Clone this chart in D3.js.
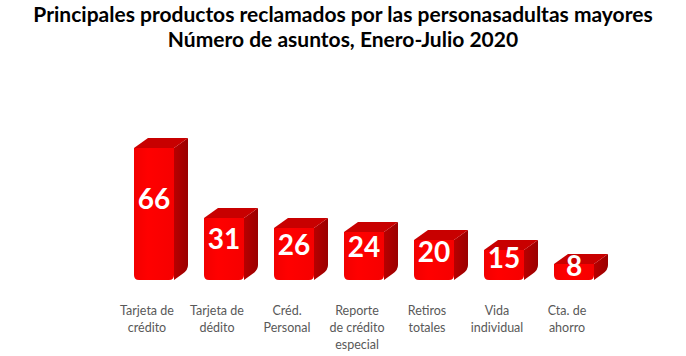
<!DOCTYPE html>
<html>
<head>
<meta charset="utf-8">
<script src="https://cdn.jsdelivr.net/npm/d3@7"></script>
<style>
  html, body { margin: 0; padding: 0; background: #fff; }
  svg { display: block; }
</style>
</head>
<body>
<svg id="chart" width="686" height="356"></svg>
<script>
const titleLines = ["Principales productos reclamados por las personasadultas mayores", "Número de asuntos, Enero-Julio 2020"];
const categories = ["Tarjeta de\ncrédito", "Tarjeta de\ndédito", "Créd.\nPersonal", "Reporte\nde crédito\nespecial", "Retiros\ntotales", "Vida\nindividual", "Cta. de\nahorro"];
const values = [66, 31, 26, 24, 20, 15, 8];

const svg = d3.select("#chart");

// title
svg.append("g").selectAll("text").data(titleLines).join("text")
  .attr("x", 343).attr("y", (d, i) => 21.5 + i * 25.6)
  .attr("text-anchor", "middle")
  .attr("font-family", "Lato, 'Open Sans', sans-serif")
  .attr("font-weight", "bold")
  .attr("font-size", 21)
  .attr("fill", "#000")
  .text(d => d);

const x = d3.scaleBand().domain(categories).range([112, 602]).padding(0);
const y = d3.scaleLinear().domain([0, 66]).range([280, 148]);

const defs = svg.append("defs");
const gFront = defs.append("linearGradient").attr("id", "front").attr("x1", 0).attr("x2", 1).attr("y1", 0).attr("y2", 0);
gFront.append("stop").attr("offset", 0).attr("stop-color", "#f20000");
gFront.append("stop").attr("offset", 0.35).attr("stop-color", "#ff0000");
gFront.append("stop").attr("offset", 1).attr("stop-color", "#f60000");
const gSide = defs.append("linearGradient").attr("id", "side").attr("x1", 0).attr("x2", 1).attr("y1", 0).attr("y2", 0);
gSide.append("stop").attr("offset", 0).attr("stop-color", "#b80000");
gSide.append("stop").attr("offset", 1).attr("stop-color", "#9a0000");

const DX = 14, DY = 10, BW = 40, R = 5;
const data = categories.map((c, i) => ({ c, v: values[i] }));

const bars = svg.append("g").selectAll("g").data(data).join("g");

bars.each(function(d) {
  const g = d3.select(this);
  const cx = x(d.c) + x.bandwidth() / 2;
  const x0 = cx - 13, x1 = x0 + BW;
  const yt = y(d.v), yb = y(0);
  g.append("path")
    .attr("d", `M${x1},${yt} L${x1 + DX},${yt - DY} L${x1 + DX},${yb - DY - R} Q${x1 + DX},${yb - DY} ${x1 + DX - R},${yb - DY + R * 0.7} L${x1},${yb} Z`)
    .attr("fill", "url(#side)");
  g.append("path")
    .attr("d", `M${x0},${yt} L${x0 + DX},${yt - DY} L${x1 + DX},${yt - DY} L${x1},${yt} Z`)
    .attr("fill", "#c80000");
  g.append("path")
    .attr("d", `M${x0},${yt} L${x1},${yt} L${x1},${yb - R} Q${x1},${yb} ${x1 - R},${yb} L${x0 + R},${yb} Q${x0},${yb} ${x0},${yb - R} Z`)
    .attr("fill", "url(#front)");
  g.append("text")
    .attr("x", cx + 7)
    .attr("y", y(0.58 * d.v + 2.4))
    .attr("dy", "0.36em")
    .attr("text-anchor", "middle")
    .attr("font-family", "Lato, 'Open Sans', sans-serif")
    .attr("font-weight", "bold")
    .attr("font-size", 28)
    .attr("fill", "#fff")
    .text(d.v);
});

const xLabels = svg.append("g").selectAll("text").data(categories).join("text")
  .attr("x", d => x(d) + x.bandwidth() / 2)
  .attr("y", 315)
  .attr("text-anchor", "middle")
  .attr("font-family", "Lato, 'Open Sans', sans-serif")
  .attr("font-size", 12.5)
  .attr("fill", "#595959");
xLabels.each(function(d) {
  const t = d3.select(this);
  d.split("\n").forEach((line, i) => {
    t.append("tspan").attr("x", x(d) + x.bandwidth() / 2).attr("dy", i === 0 ? 0 : 17).text(line);
  });
});
</script>
</body>
</html>
